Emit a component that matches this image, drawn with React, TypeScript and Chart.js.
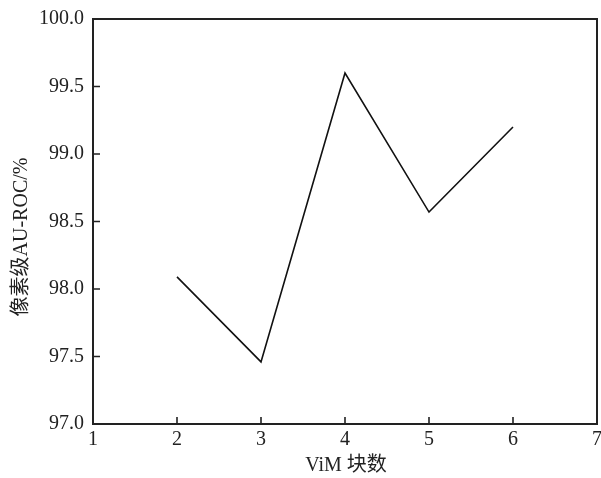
import React, { useEffect, useRef } from "react";
import { Chart, registerables } from "chart.js";

Chart.register(...registerables);

const blockCounts = [2, 3, 4, 5, 6];
const pixelAuroc = [98.09, 97.46, 99.6, 98.57, 99.2];
const xTicks = [1, 2, 3, 4, 5, 6, 7];
const yTicks = [97.0, 97.5, 98.0, 98.5, 99.0, 99.5, 100.0];
const xTitle = "ViM 块数";
const yTitle = "像素级AU-ROC/%";

const FONT = '"Liberation Serif", "Noto Sans CJK SC", serif';

const framePlugin = {
  id: "frame",
  afterDraw(chart: any) {
    const { ctx, chartArea } = chart;
    const { left, right, top, bottom } = chartArea;
    const xs = chart.scales.x;
    const ys = chart.scales.y;
    ctx.save();
    ctx.strokeStyle = "#222";
    ctx.lineWidth = 1.6;
    ctx.beginPath();
    xTicks.forEach((v) => {
      const px = xs.getPixelForValue(v);
      if (px > left + 1 && px < right - 1) {
        ctx.moveTo(px, bottom);
        ctx.lineTo(px, bottom - 7);
      }
    });
    yTicks.forEach((v) => {
      const py = ys.getPixelForValue(v);
      if (py > top + 1 && py < bottom - 1) {
        ctx.moveTo(left, py);
        ctx.lineTo(left + 7, py);
      }
    });
    ctx.stroke();
    ctx.lineWidth = 2;
    ctx.strokeRect(left, top, right - left, bottom - top);
    ctx.fillStyle = "#222";
    ctx.font = `20px ${FONT}`;
    ctx.textAlign = "center";
    ctx.textBaseline = "middle";
    ctx.fillText(xTitle, (left + right) / 2 + 1, 466);
    ctx.translate(22, 237);
    ctx.rotate(-Math.PI / 2);
    ctx.fillText(yTitle, 0, 0);
    ctx.restore();
  },
};

export default function App() {
  const ref = useRef<HTMLCanvasElement>(null);
  useEffect(() => {
    document.body.style.margin = "0";
    const chart = new Chart(ref.current!, {
      type: "line",
      data: {
        datasets: [
          {
            data: blockCounts.map((x, i) => ({ x, y: pixelAuroc[i] })),
            borderColor: "#111",
            borderWidth: 1.6,
            pointRadius: 0,
            fill: false,
            tension: 0,
          },
        ],
      },
      options: {
        animation: false,
        responsive: false,
        devicePixelRatio: 1,
        layout: { padding: { left: 0, top: 19, right: 4, bottom: 0 } },
        plugins: { legend: { display: false }, tooltip: { enabled: false } },
        scales: {
          x: {
            type: "linear",
            min: 1,
            max: 7,
            afterBuildTicks: (s: any) => {
              s.ticks = xTicks.map((v) => ({ value: v }));
            },
            afterFit: (s: any) => {
              s.height = 54;
              s.paddingLeft = 0;
              s.paddingRight = 0;
            },
            grid: { display: false, drawTicks: false },
            border: { display: false },
            ticks: {
              color: "#222",
              font: { family: FONT, size: 20 },
              padding: 4,
              maxRotation: 0,
              callback: (v: any) => String(v),
            },
          },
          y: {
            type: "linear",
            min: 97,
            max: 100,
            afterBuildTicks: (s: any) => {
              s.ticks = yTicks.map((v) => ({ value: v }));
            },
            afterFit: (s: any) => {
              s.width = 93;
              s.paddingTop = 0;
              s.paddingBottom = 0;
            },
            grid: { display: false, drawTicks: false },
            border: { display: false },
            ticks: {
              color: "#222",
              font: { family: FONT, size: 20 },
              padding: 9,
              callback: (v: any) => Number(v).toFixed(1),
            },
          },
        },
      },
      plugins: [framePlugin],
    });
    return () => chart.destroy();
  }, []);
  return (
    <div style={{ width: 601, height: 478, background: "#fff" }}>
      <canvas ref={ref} width={601} height={478} />
    </div>
  );
}
